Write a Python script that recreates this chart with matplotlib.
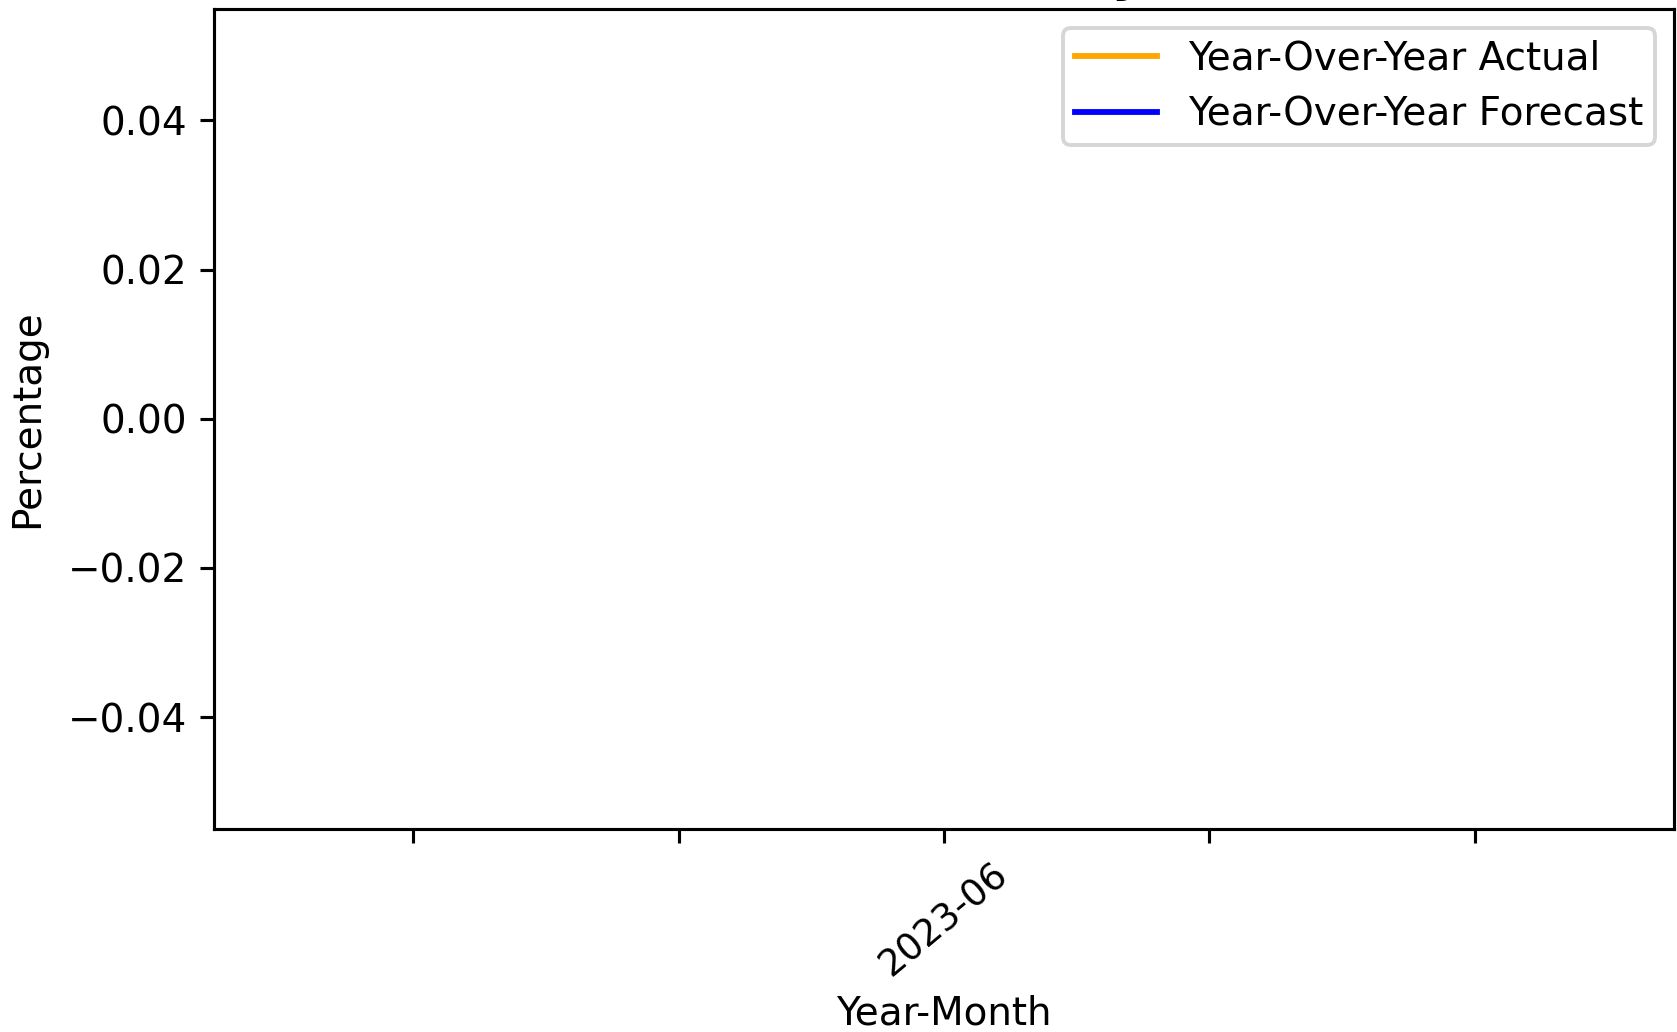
import matplotlib.pyplot as plt
from matplotlib.ticker import FuncFormatter

# data: one month, both series at 0
months = ["2023-06"]
yoy_actual = [0.0]
yoy_forecast = [0.0]

dpi = 280
fig = plt.figure(figsize=(1677 / dpi, 1032 / dpi), dpi=dpi)
ax = fig.add_axes([214 / 1677, 1 - 829 / 1032, (1674 - 214) / 1677, (829 - 8.5) / 1032])

x = list(range(len(months)))
ax.plot(x, yoy_actual, color="orange", label="Year-Over-Year Actual")
ax.plot(x, yoy_forecast, color="blue", label="Year-Over-Year Forecast")


def month_label(val, pos):
    i = round(val)
    if abs(val - i) < 1e-9 and 0 <= i < len(months):
        return months[i]
    return ""


ax.xaxis.set_major_formatter(FuncFormatter(month_label))
plt.setp(ax.get_xticklabels(), rotation=40, fontsize=9.5)

ax.set_xlabel("Year-Month")
ax.xaxis.set_label_coords(0.5, -0.202)
ax.set_ylabel("Percentage", labelpad=5.5)
# the title sits above the top edge of the picture, only a descender shows
ax.set_title("Actual vs Forecast Monthly Year-Over-Year", fontsize=18, pad=5.5)
ax.legend(loc="upper right", borderpad=0.3, labelspacing=0.46,
          handlelength=2.1, handletextpad=0.8)

fig.savefig("out.png", dpi=dpi)
